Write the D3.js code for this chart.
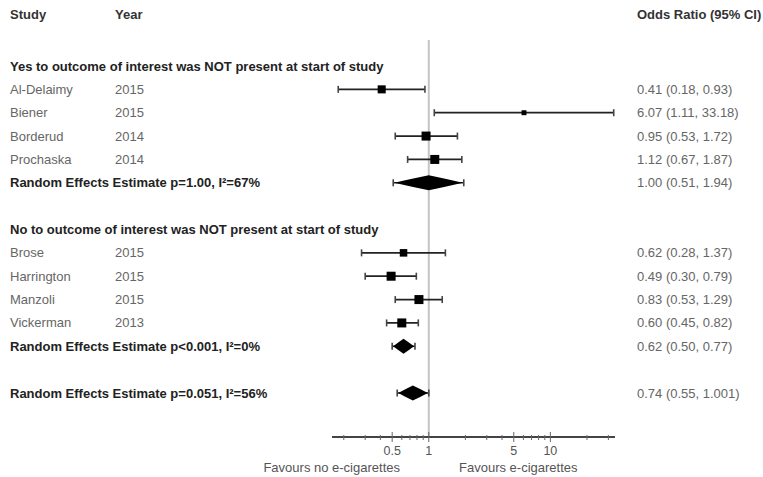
<!DOCTYPE html>
<html>
<head>
<meta charset="utf-8">
<script src="https://cdn.jsdelivr.net/npm/d3@7"></script>
<style>
  body { margin: 0; background: #fff; }
  text { font-family: "Liberation Sans", Arial, sans-serif; }
</style>
</head>
<body>
<div id="forest"></div>
<script>
// Study data
const studies = ["Al-Delaimy", "Biener", "Borderud", "Prochaska", "Brose", "Harrington", "Manzoli", "Vickerman"];
const years = [2015, 2015, 2014, 2014, 2015, 2015, 2015, 2013];
const oddsRatio = [0.41, 6.07, 0.95, 1.12, 0.62, 0.49, 0.83, 0.60];
const lowerCI = [0.18, 1.11, 0.53, 0.67, 0.28, 0.30, 0.53, 0.45];
const upperCI = [0.93, 33.18, 1.72, 1.87, 1.37, 0.79, 1.29, 0.82];
const weights = [4, 1.5, 5, 5, 3.5, 5, 5, 5];

// Subgroup titles and pooled estimates
const groupTitles = [
    "Yes to outcome of interest was NOT present at start of study",
    "No to outcome of interest was NOT present at start of study"
];
const summaryLabels = [
    "Random Effects Estimate p=1.00, I\u00B2=67%",
    "Random Effects Estimate p<0.001, I\u00B2=0%",
    "Random Effects Estimate p=0.051, I\u00B2=56%"
];
const summaryOR = [1.00, 0.62, 0.74];
const summaryLower = [0.51, 0.50, 0.55];
const summaryUpper = [1.94, 0.77, 1.001];
const summaryText = ["1.00 (0.51, 1.94)", "0.62 (0.50, 0.77)", "0.74 (0.55, 1.001)"];

// Axis ticks
const majorTicks = [0.5, 1, 5, 10];
const minorTicks = [0.2, 0.3, 0.4, 0.6, 0.7, 0.8, 0.9, 2, 3, 4, 6, 7, 8, 9, 20, 30];
const headers = ["Study", "Year", "Odds Ratio (95% CI)"];

const W = 763, H = 477;
const svg = d3.select("#forest")
    .append("svg")
    .attr("width", W)
    .attr("height", H);

// row layout: rows 0..14
const studyRow = [1, 2, 3, 4, 8, 9, 10, 11];
const titleRow = [0, 7];
const summaryRow = [5, 12, 14];

const y = d3.scaleLinear().domain([0, 14]).range([66, 393]);
const x = d3.scaleLog().domain([0.16, 34]).range([332, 615]);
const box = d3.scaleSqrt().domain([0, 5]).range([0, 9]);
const fmt = d3.format(".2f");

const colName = 10, colYear = 115, colOR = 637;
const axisY = 437;
const fs = "13px";

// headers
svg.selectAll(".hdr")
    .data(headers)
    .enter().append("text")
    .attr("x", (d, i) => [colName, colYear, colOR][i])
    .attr("y", 14)
    .attr("dy", "0.35em")
    .style("font-size", fs)
    .style("font-weight", "bold")
    .style("fill", "#333")
    .text(d => d);

// null line
svg.append("line")
    .attr("x1", x(1)).attr("x2", x(1))
    .attr("y1", 40).attr("y2", axisY)
    .style("stroke", "#c4c4c4")
    .style("stroke-width", 2);

// group titles
svg.selectAll(".gt")
    .data(groupTitles)
    .enter().append("text")
    .attr("x", colName)
    .attr("y", (d, i) => y(titleRow[i]))
    .attr("dy", "0.35em")
    .style("font-size", fs)
    .style("font-weight", "bold")
    .style("fill", "#222")
    .text(d => d);

// study rows
const rows = svg.selectAll(".study")
    .data(studies)
    .enter().append("g")
    .attr("transform", (d, i) => `translate(0,${y(studyRow[i])})`);

rows.append("text")
    .attr("x", colName).attr("dy", "0.35em")
    .style("font-size", fs).style("fill", "#666")
    .text(d => d);

rows.append("text")
    .attr("x", colYear).attr("dy", "0.35em")
    .style("font-size", fs).style("fill", "#666")
    .text((d, i) => years[i]);

rows.append("text")
    .attr("x", colOR).attr("dy", "0.35em")
    .style("font-size", fs).style("fill", "#666")
    .text((d, i) => `${fmt(oddsRatio[i])} (${fmt(lowerCI[i])}, ${fmt(upperCI[i])})`);

rows.append("line")
    .attr("x1", (d, i) => x(lowerCI[i]))
    .attr("x2", (d, i) => x(upperCI[i]))
    .style("stroke", "#222").style("stroke-width", 1.8);

rows.selectAll(".cap")
    .data((d, i) => [lowerCI[i], upperCI[i]])
    .enter().append("line")
    .attr("x1", d => x(d)).attr("x2", d => x(d))
    .attr("y1", -3.5).attr("y2", 3.5)
    .style("stroke", "#444").style("stroke-width", 1.6);

rows.append("rect")
    .attr("x", (d, i) => x(oddsRatio[i]) - box(weights[i]) / 2)
    .attr("y", (d, i) => -box(weights[i]) / 2)
    .attr("width", (d, i) => box(weights[i]))
    .attr("height", (d, i) => box(weights[i]))
    .style("fill", "#000");

// pooled estimates
const sums = svg.selectAll(".sum")
    .data(summaryLabels)
    .enter().append("g")
    .attr("transform", (d, i) => `translate(0,${y(summaryRow[i])})`);

sums.append("text")
    .attr("x", colName).attr("dy", "0.35em")
    .style("font-size", fs).style("font-weight", "bold").style("fill", "#222")
    .text(d => d);

sums.append("text")
    .attr("x", colOR).attr("dy", "0.35em")
    .style("font-size", fs).style("fill", "#666")
    .text((d, i) => summaryText[i]);

sums.append("line")
    .attr("x1", (d, i) => x(summaryLower[i]))
    .attr("x2", (d, i) => x(summaryUpper[i]))
    .style("stroke", "#222").style("stroke-width", 1.6);

sums.selectAll(".cap")
    .data((d, i) => [summaryLower[i], summaryUpper[i]])
    .enter().append("line")
    .attr("x1", d => x(d)).attr("x2", d => x(d))
    .attr("y1", -3.5).attr("y2", 3.5)
    .style("stroke", "#444").style("stroke-width", 1.6);

sums.append("path")
    .attr("d", (d, i) => {
        const l = x(summaryLower[i]) + 1, r = x(summaryUpper[i]) - 1, c = x(summaryOR[i]);
        return `M${l},0 Q${(l + c) / 2},-4 ${c},-7.5 Q${(c + r) / 2},-4 ${r},0 Q${(c + r) / 2},4 ${c},7.5 Q${(l + c) / 2},4 ${l},0Z`;
    })
    .style("fill", "#000");

// x axis
svg.append("line")
    .attr("x1", x.range()[0]).attr("x2", x.range()[1])
    .attr("y1", axisY).attr("y2", axisY)
    .style("stroke", "#444").style("stroke-width", 2);

svg.selectAll(".minor")
    .data(minorTicks)
    .enter().append("line")
    .attr("x1", d => x(d)).attr("x2", d => x(d))
    .attr("y1", axisY - 2).attr("y2", axisY + 3)
    .style("stroke", "#666").style("stroke-width", 1);

svg.selectAll(".major")
    .data(majorTicks)
    .enter().append("line")
    .attr("x1", d => x(d)).attr("x2", d => x(d))
    .attr("y1", axisY - 5).attr("y2", axisY + 5)
    .style("stroke", "#666").style("stroke-width", 1);

svg.selectAll(".tl")
    .data(majorTicks)
    .enter().append("text")
    .attr("x", d => x(d))
    .attr("y", axisY + 14)
    .attr("dy", "0.35em")
    .attr("text-anchor", "middle")
    .style("font-size", "12.5px").style("fill", "#555")
    .text(d => d);

svg.append("text")
    .attr("x", 400).attr("y", axisY + 30).attr("dy", "0.35em")
    .attr("text-anchor", "end")
    .style("font-size", fs).style("fill", "#555")
    .text("Favours no e-cigarettes");

svg.append("text")
    .attr("x", 459).attr("y", axisY + 30).attr("dy", "0.35em")
    .style("font-size", fs).style("fill", "#555")
    .text("Favours e-cigarettes");
</script>
</body>
</html>
